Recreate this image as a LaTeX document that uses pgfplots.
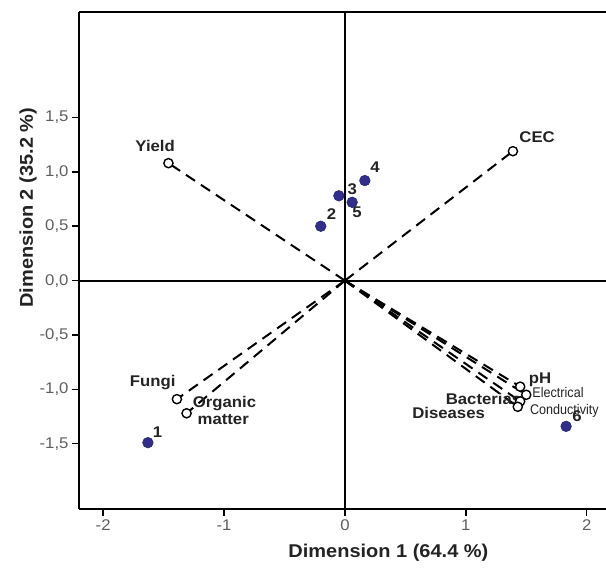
\documentclass[border=0pt]{standalone}
\usepackage{fontspec}
\setmainfont{Liberation Sans}[FakeStretch=1.08]
\newfontfamily\narrowfont{Liberation Sans}[FakeStretch=0.9]
\usepackage{pgfplots}
\pgfplotsset{compat=1.18}
\definecolor{ptblue}{RGB}{50,46,140}
\definecolor{ticklab}{RGB}{95,95,95}
\definecolor{labtext}{RGB}{35,35,35}

\begin{document}
\begin{tikzpicture}
\begin{axis}[
  width=527pt, height=497pt, scale only axis,
  xmin=-2.2, xmax=2.16, ymin=-2.10, ymax=2.47,
  axis x line*=bottom, axis y line*=left,
  axis line style={line width=1.8pt, -},
  tick align=outside, major tick length=7pt,
  tick style={line width=1.5pt, black},
  xtick={-2,-1,0,1,2}, ytick={-1.5,-1,-0.5,0,0.5,1,1.5},
  yticklabel style={/pgf/number format/.cd, use comma, fixed, fixed zerofill, precision=1},
  ticklabel style={font=\fontsize{15.5}{16}\selectfont, text=ticklab},
  /pgf/number format/assume math mode=true,
  xlabel={Dimension 1 (64.4 \%)},
  ylabel={Dimension 2 (35.2 \%)},
  xlabel style={at={(axis cs:0.36,-2.10)}, anchor=center, yshift=-44pt},
  ylabel style={at={(axis cs:-2.2,0.67)}, anchor=center, rotate=0, yshift=51pt},
  label style={font=\fontsize{18.5}{19}\selectfont\bfseries, text=labtext},
  clip=false,
]
% frame top and zero lines
\draw[line width=1.8pt] (axis cs:-2.2,2.47) -- (axis cs:2.16,2.47);
\draw[line width=1.8pt] (axis cs:0,-2.10) -- (axis cs:0,2.47);
\draw[line width=1.8pt] (axis cs:-2.2,0) -- (axis cs:2.16,0);
\coordinate (bl) at (rel axis cs:0,0);

% vectors to the variables
\pgfplotsset{vec/.style={black, line width=2pt, dash pattern=on 11pt off 7pt, no marks, forget plot}}
\addplot[vec] coordinates {(0,0) (-1.46,1.08)};   % Yield
\addplot[vec] coordinates {(0,0) (1.39,1.19)};    % CEC
\addplot[vec] coordinates {(0,0) (-1.39,-1.09)};  % Fungi
\addplot[vec] coordinates {(0,0) (-1.31,-1.22)};  % Organic matter
\addplot[vec] coordinates {(0,0) (1.45,-0.975)};  % pH
\addplot[vec] coordinates {(0,0) (1.50,-1.05)};   % EC
\addplot[vec] coordinates {(0,0) (1.45,-1.11)};   % Bacterias
\addplot[vec] coordinates {(0,0) (1.43,-1.16)};   % Diseases

% variables
\addplot[only marks, mark=*, mark size=4.6pt,
  mark options={fill=white, draw=black, line width=1.4pt}] coordinates {
  (-1.46,1.08) (1.39,1.19) (-1.39,-1.09) (-1.31,-1.22)
  (1.45,-0.975) (1.50,-1.05) (1.45,-1.11) (1.43,-1.16)};

% objects
\addplot[only marks, mark=*, mark size=5.3pt,
  mark options={fill=ptblue, draw=ptblue!80!black, line width=0.6pt}] coordinates {
  (-1.63,-1.49) (-0.20,0.50) (-0.05,0.78) (0.165,0.92) (0.06,0.72) (1.83,-1.34)};

\begin{scope}[every node/.style={font=\fontsize{15.5}{16}\selectfont\bfseries, text=labtext, inner sep=0pt}]
\node at (axis cs:-1.57,1.24) {Yield};
\node at (axis cs:1.59,1.32) {CEC};
\node at (axis cs:-1.59,-0.94) {Fungi};
\node[anchor=west] at (axis cs:-1.26,-1.13) {Organic};
\node[anchor=west] at (axis cs:-1.22,-1.28) {matter};
\node[anchor=west] at (axis cs:1.52,-0.91) {pH};
\node[anchor=east] at (axis cs:1.46,-1.09) {Bacterias};
\node[anchor=east] at (axis cs:1.16,-1.22) {Diseases};
\node at (axis cs:-1.55,-1.39) {1};
\node at (axis cs:-0.11,0.61) {2};
\node at (axis cs:0.06,0.84) {3};
\node at (axis cs:0.25,1.04) {4};
\node at (axis cs:0.10,0.63) {5};
\node at (axis cs:1.92,-1.25) {6};
\end{scope}
\node[anchor=west, inner sep=0pt, font=\narrowfont\fontsize{14}{14}\selectfont, text=labtext] at (axis cs:1.55,-1.03) {Electrical};
\node[anchor=west, inner sep=0pt, font=\narrowfont\fontsize{14}{14}\selectfont, text=labtext] at (axis cs:1.53,-1.20) {Conductivity};
\end{axis}
\pgfresetboundingbox
\path (bl) ++(-79pt,-60pt) rectangle ++(606pt,569pt);
\end{tikzpicture}
\end{document}
